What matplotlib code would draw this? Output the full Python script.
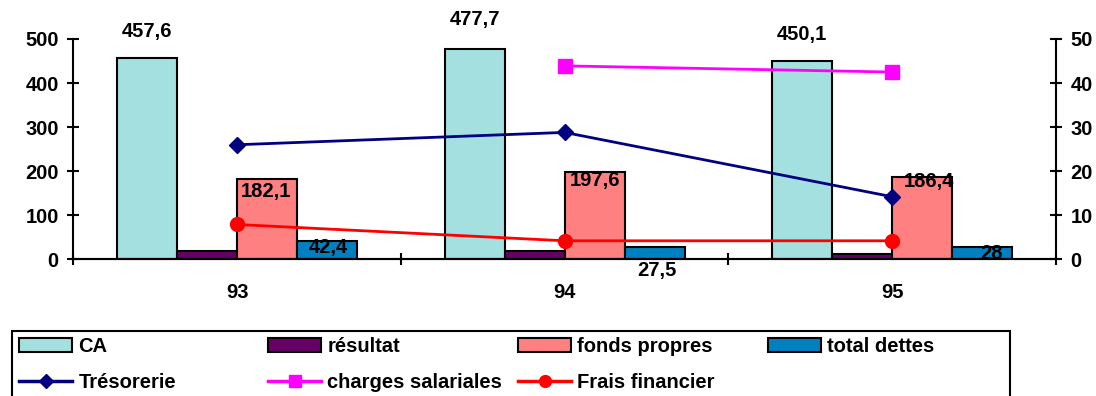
import numpy as np
import matplotlib
matplotlib.use('Agg')
import matplotlib.pyplot as plt
from matplotlib.patches import Patch, Rectangle
from matplotlib.lines import Line2D

plt.rcParams['font.family'] = ['Liberation Sans', 'DejaVu Sans']
plt.rcParams['font.weight'] = 'bold'
fs = 14.5

annees = ['93', '94', '95']

# left axis (bars)
ca = [457.6, 477.7, 450.1]
resultat = [19, 18, 11]
fonds_propres = [182.1, 197.6, 186.4]
total_dettes = [42.4, 27.5, 28]

# right axis (lines)
tresorerie = [26.0, 28.8, 14.2]
charges_salariales = [np.nan, 43.9, 42.5]
frais_financier = [7.9, 4.2, 4.2]

bar_series = [
    ('CA', ca, '#a4e0e0'),
    ('résultat', resultat, '#660066'),
    ('fonds propres', fonds_propres, '#ff8080'),
    ('total dettes', total_dettes, '#0080c0'),
]
line_series = [
    ('Trésorerie', tresorerie, '#000080', 'D', 8),
    ('charges salariales', charges_salariales, '#ff00ff', 's', 9.5),
    ('Frais financier', frais_financier, '#ff0000', 'o', 10),
]

# label offsets (points) for the value labels of each labelled bar series
ca_off = [(0, 19), (0, 21), (0, 19)]
fp_off = [(-1, -9), (0, -6), (5, -3)]
td_off = [(1, -5), (2, -17), (7, -5)]

def fmt(v):
    return ('%g' % v).replace('.', ',')

W, H = 1096, 396
fig = plt.figure(figsize=(W / 100, H / 100), dpi=100)
ax = fig.add_axes([73.3 / W, 1 - 259.3 / H, (1056 - 73.3) / W, (259.3 - 39) / H])
ax2 = ax.twinx()

x = np.arange(len(annees))
w = 0.183
for i, (name, vals, col) in enumerate(bar_series):
    ax.bar(x + (i - 1.5) * w, vals, w, color=col, edgecolor='black', linewidth=1.5, zorder=2)

for name, vals, col, mk, ms in line_series:
    ax2.plot(x, vals, color=col, lw=2, marker=mk, markersize=ms, zorder=3)

for xi, v, off in zip(x - 1.5 * w, ca, ca_off):
    ax.annotate(fmt(v), (xi, v), xytext=off, textcoords='offset points',
                ha='center', va='center', fontsize=fs, fontweight='bold', annotation_clip=False)
for xi, v, off in zip(x + 0.5 * w, fonds_propres, fp_off):
    ax.annotate(fmt(v), (xi, v), xytext=off, textcoords='offset points',
                ha='center', va='center', fontsize=fs, fontweight='bold', zorder=5)
for xi, v, off in zip(x + 1.5 * w, total_dettes, td_off):
    ax.annotate(fmt(v), (xi, v), xytext=off, textcoords='offset points',
                ha='center', va='center', fontsize=fs, fontweight='bold', annotation_clip=False)

ax.set_xlim(-0.5, 2.5)
ax.set_ylim(0, 500)
ax2.set_ylim(0, 50)
ax.set_yticks(range(0, 501, 100))
ax2.set_yticks(range(0, 51, 10))
ax.set_xticks(x)
ax.set_xticklabels(annees)
ax.set_xticks([-0.5, 0.5, 1.5, 2.5], minor=True)

for a in (ax, ax2):
    a.spines['top'].set_visible(False)
    for s in ('left', 'right', 'bottom'):
        a.spines[s].set_linewidth(1.5)
    a.set_facecolor('none')
ax.spines['right'].set_visible(False)
ax2.spines['left'].set_visible(False)

ax.tick_params(axis='y', direction='inout', length=9, width=1.5, pad=6, labelsize=fs)
ax2.tick_params(axis='y', direction='inout', length=9, width=1.5, pad=6, labelsize=fs)
ax.tick_params(axis='x', which='major', length=0, pad=17, labelsize=fs)
ax.tick_params(axis='x', which='minor', direction='inout', length=9, width=1.5)

# legend: four fixed-width columns inside one frame
handles = [Patch(facecolor=c, edgecolor='black', linewidth=1.5) for _, _, c in bar_series]
lhandles = [Line2D([], [], color=c, lw=2.5, marker=m, markersize=ms * 0.85) for _, _, c, m, ms in line_series]
names = [n for n, _, _ in bar_series]
lnames = [n for n, _, _, _, _ in line_series]
col_x = [19, 268, 518, 768]
for i in range(4):
    hs = [handles[i]] + ([lhandles[i]] if i < 3 else [])
    ls = [names[i]] + ([lnames[i]] if i < 3 else [])
    fig.legend(hs, ls, loc='upper left', bbox_to_anchor=(col_x[i] / W, 1 - 337 / H),
               frameon=False, borderpad=0, borderaxespad=0,
               handlelength=2.65, handletextpad=0.3, labelspacing=0.85,
               prop={'weight': 'bold', 'size': fs})
fig.patches.append(Rectangle((12 / W, -0.1), (1010 - 12) / W, (396 - 331) / H + 0.1,
                             transform=fig.transFigure, fill=False,
                             edgecolor='black', linewidth=1.5))

fig.savefig('out.png', dpi=100)
